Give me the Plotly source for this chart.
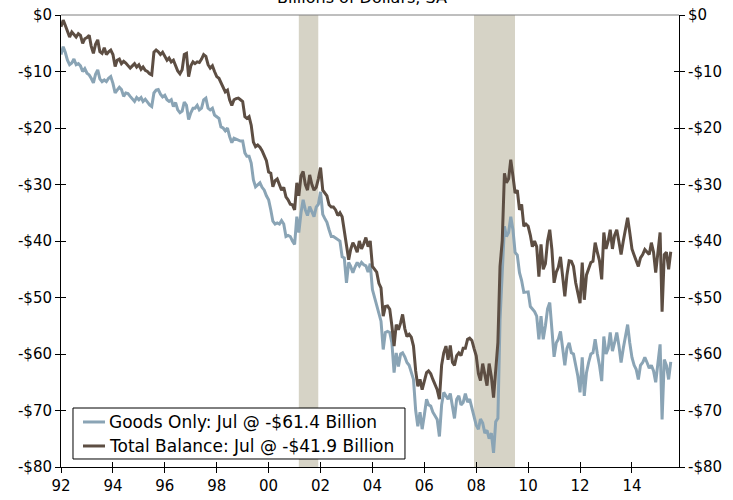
import pandas as pd
import plotly.graph_objects as go

# Monthly US trade balance, billions of dollars, SA (Jan 1992 - Jul 2015)
start_month = "1992-01-01"

goods_only = [
    -7.0, -5.6, -6.6, -8.0, -8.8, -8.5, -7.8, -8.8, -8.6, -9.0, -10.0, -9.5,          # 1992
    -10.3, -10.6, -11.2, -12.0, -10.5, -9.7, -11.3, -11.8, -11.5, -11.8, -11.2, -10.9,  # 1993
    -12.1, -13.8, -13.3, -12.8, -13.2, -14.4, -13.8, -13.9, -14.4, -14.8, -15.3, -14.6,  # 1994
    -15.0, -14.6, -15.3, -14.9, -15.5, -15.9, -16.2, -13.8, -13.3, -13.2, -14.0, -14.5,  # 1995
    -14.2, -15.0, -15.3, -15.0, -16.2, -15.5, -16.8, -17.3, -17.0, -15.4, -16.0, -18.5,  # 1996
    -17.3, -16.5, -16.5, -16.0, -16.8, -16.5, -15.0, -14.7, -16.5, -16.8, -16.5, -17.7,  # 1997
    -18.0, -18.3, -19.8, -20.0, -20.5, -20.0, -21.5, -22.6, -21.8, -22.0, -22.2, -22.3,  # 1998
    -22.3, -24.4, -25.0, -25.0, -26.2, -29.2, -30.4, -30.0, -29.7, -30.5, -31.0, -32.0,  # 1999
    -32.7, -34.5, -36.5, -37.0, -36.8, -37.0, -36.4, -37.0, -39.2, -39.0, -39.2, -40.0,  # 2000
    -40.6, -35.7, -38.5, -35.0, -32.7, -34.5, -35.5, -33.9, -35.0, -35.7, -34.0, -33.5,  # 2001
    -31.3, -35.3, -36.0, -36.7, -38.0, -39.2, -39.2, -39.5, -39.8, -40.0, -42.8, -43.0,  # 2002
    -47.4, -43.8, -44.5, -45.6, -44.6, -43.8, -44.4, -43.8, -44.2, -44.4, -45.5, -44.0,  # 2003
    -48.6, -50.0, -51.6, -53.0, -54.2, -59.2, -56.2, -56.0, -56.2, -58.0, -63.3, -59.8,  # 2004
    -62.2, -60.0, -59.8, -60.5, -61.5, -62.0, -63.3, -64.5, -70.0, -72.8, -70.3, -73.3,  # 2005
    -70.8, -68.0, -69.0, -69.2, -70.3, -71.0, -71.6, -74.6, -69.0, -66.8, -67.5, -68.0,  # 2006
    -67.0, -69.2, -71.4, -68.0, -67.4, -69.0, -68.6, -67.0, -68.5, -68.0, -69.5, -71.0,  # 2007
    -72.6, -73.3, -71.5, -72.2, -74.0, -73.5, -75.0, -74.0, -77.5, -72.0, -71.4, -54.0,  # 2008
    -45.6, -37.4, -39.2, -38.5, -35.7, -38.0, -42.0, -42.5, -45.6, -47.0, -49.1, -49.0,  # 2009
    -49.0, -51.6, -52.0, -52.5, -53.3, -57.4, -53.3, -57.4, -55.0, -52.0, -50.9, -56.0,  # 2010
    -60.5, -58.0, -57.4, -56.0, -59.0, -62.0, -59.0, -58.0, -59.8, -60.0, -62.0, -63.9,  # 2011
    -66.8, -60.6, -67.4, -63.3, -61.5, -60.0, -59.8, -57.4, -60.0, -62.0, -64.8, -56.9,  # 2012
    -60.0, -59.0, -56.2, -59.5, -58.0, -56.2, -58.5, -61.5, -59.0, -57.0, -54.8, -58.0,  # 2013
    -60.6, -62.0, -62.7, -64.5, -62.0, -61.5, -60.6, -61.5, -62.5, -62.0, -63.0, -65.0,  # 2014
    -62.0, -58.3, -71.6, -61.0, -62.0, -64.5, -61.4,                                      # 2015
]

total_balance = [
    -2.1, -0.9, -1.8, -2.9, -3.9, -3.0, -3.4, -3.9, -3.3, -3.6, -5.0, -4.2,            # 1992
    -4.0, -3.6, -5.5, -6.8, -5.2, -4.4, -6.5, -6.8, -5.8, -7.0, -6.5, -6.2,            # 1993
    -7.0, -9.1, -8.0, -7.8, -8.6, -8.2, -8.5, -8.9, -9.4, -9.0, -8.6, -9.2,            # 1994
    -8.8, -9.6, -9.2, -9.8, -10.0, -10.4, -10.6, -6.6, -6.2, -6.5, -7.0, -6.6,         # 1995
    -7.4, -8.0, -7.6, -8.3, -8.0, -9.0, -9.9, -10.4, -9.7, -7.0, -6.8, -10.9,          # 1996
    -9.0, -8.3, -8.6, -8.3, -8.4, -7.8, -7.0, -7.3, -8.8, -9.4, -9.0, -10.0,           # 1997
    -10.9, -11.2, -12.0, -12.6, -13.6, -13.3, -15.0, -16.0, -15.0, -14.8, -14.7, -15.0,  # 1998
    -15.3, -18.0, -18.3, -18.0, -19.5, -22.5, -23.3, -23.0, -23.4, -24.0, -25.0, -25.8,  # 1999
    -27.8, -28.0, -30.4, -29.3, -29.0, -30.0, -31.0, -30.5, -32.2, -32.7, -33.5, -33.6,  # 2000
    -34.5, -29.7, -32.0, -28.5, -27.7, -30.0, -31.0, -28.3, -30.0, -31.0, -30.5, -29.0,  # 2001
    -27.0, -31.0, -31.5, -32.0, -33.6, -34.0, -34.0, -34.5, -35.5, -35.0, -35.7, -38.0,  # 2002
    -40.3, -43.3, -41.5, -40.3, -41.0, -42.0, -40.0, -41.4, -40.5, -39.4, -41.0, -40.0,  # 2003
    -44.5, -45.0, -45.5, -47.5, -48.3, -53.3, -51.6, -51.5, -52.1, -55.0, -58.6, -54.8,  # 2004
    -55.7, -54.5, -53.0, -55.5, -56.9, -56.5, -57.0, -58.6, -63.0, -65.7, -64.5, -66.3,  # 2005
    -65.0, -63.3, -63.0, -63.5, -64.5, -65.5, -66.3, -68.0, -62.0, -59.8, -58.6, -61.0,  # 2006
    -58.5, -61.5, -62.0, -60.3, -59.8, -60.3, -59.0, -59.0, -57.4, -57.2, -57.6, -59.0,  # 2007
    -60.3, -63.5, -64.7, -61.7, -63.5, -65.6, -61.7, -64.0, -67.7, -62.2, -58.0, -44.5,  # 2008
    -40.0, -28.0, -29.7, -29.0, -25.6, -28.5, -31.5, -31.0, -34.5, -33.5, -37.4, -37.0,  # 2009
    -37.4, -39.0, -41.0, -40.0, -41.0, -46.3, -40.6, -45.0, -44.0, -40.0, -38.0, -41.5,  # 2010
    -47.4, -45.5, -44.7, -42.8, -46.0, -49.8, -46.0, -43.5, -43.6, -44.5, -47.4, -49.5,  # 2011
    -51.0, -43.8, -50.4, -46.0, -45.0, -43.8, -43.6, -40.3, -42.0, -43.5, -46.8, -38.5,  # 2012
    -41.4, -40.0, -38.0, -41.4, -39.0, -38.0, -40.1, -42.4, -40.0, -38.0, -35.9, -38.5,  # 2013
    -41.4, -42.5, -43.3, -44.5, -43.0, -42.4, -41.5, -42.0, -42.4, -40.3, -42.0, -45.6,  # 2014
    -41.8, -38.5, -52.5, -42.4, -42.0, -45.0, -41.9,                                      # 2015
]

series_names = ["Goods Only: Jul @ -$61.4 Billion", "Total Balance: Jul @ -$41.9 Billion"]
recessions = [("2001-03-01", "2001-11-30"), ("2007-12-01", "2009-06-30")]
y_tickvals = [0, -10, -20, -30, -40, -50, -60, -70, -80]
y_ticktext = ["$0", "-$10", "-$20", "-$30", "-$40", "-$50", "-$60", "-$70", "-$80"]
title_text = "Billions of Dollars, SA"

dates = pd.date_range(start_month, periods=len(goods_only), freq="MS")

FONT = "DejaVu Sans, Verdana, sans-serif"
BLUE = "#8AA4B5"
BROWN = "#5D4E43"
SHADE = "#D6D3C6"
AX = "#000000"
x_range = ["1992-01-01", "2015-10-25"]
y_range = [-80, 0]
colors = [BLUE, BROWN]

fig = go.Figure()
fig.add_trace(go.Scatter(x=dates, y=goods_only, mode="lines", name=series_names[0],
                         line=dict(color=BLUE, width=3), showlegend=False))
fig.add_trace(go.Scatter(x=dates, y=total_balance, mode="lines", name=series_names[1],
                         line=dict(color=BROWN, width=3), showlegend=False))
# empty helper traces so that overlay axes (for crossing tick marks) get drawn
for xa, ya in [("x", "y2"), ("x", "y3"), ("x", "y4"), ("x2", "y")]:
    fig.add_trace(go.Scatter(x=[], y=[], xaxis=xa, yaxis=ya, showlegend=False, hoverinfo="skip"))

for r0, r1 in recessions:
    fig.add_shape(type="rect", xref="x", yref="paper", x0=r0, x1=r1, y0=0, y1=1,
                  fillcolor=SHADE, line=dict(width=0), layer="below")
fig.add_shape(type="line", xref="paper", yref="paper", x0=0, x1=1, y0=1, y1=1,
              line=dict(color="#7f7f7f", width=1))

# legend box (drawn manually to match the boxed legend of the original)
fig.add_shape(type="rect", xref="paper", yref="paper", x0=0.0194, x1=0.5566, y0=0.0177, y1=0.1305,
              fillcolor="white", line=dict(color="#000", width=1), layer="above")
legend_rows = [0.0996, 0.0465]
annotations = []
for name, col, ry in zip(series_names, colors, legend_rows):
    fig.add_shape(type="line", xref="paper", yref="paper", x0=0.0356, x1=0.0712, y0=ry, y1=ry,
                  line=dict(color=col, width=3), layer="above")
    annotations.append(dict(text=name, xref="paper", yref="paper", x=0.0744, y=ry,
                            xanchor="left", yanchor="middle", showarrow=False,
                            font=dict(family=FONT, size=17, color="#000")))
annotations.append(dict(text=title_text, xref="paper", yref="paper", x=0.487, y=1,
                        xanchor="center", yanchor="bottom", yshift=6, showarrow=False,
                        font=dict(family=FONT, size=16, color="#000")))

tickfont = dict(family=FONT, size=15, color="#000")
yax_common = dict(range=y_range, tickvals=y_tickvals, ticktext=y_ticktext, showgrid=False,
                  zeroline=False, tickcolor=AX, ticklen=5, tickfont=tickfont, automargin=False)

fig.update_layout(
    width=733, height=500,
    margin=dict(l=61, r=54, t=15, b=33),
    paper_bgcolor="white", plot_bgcolor="white",
    font=dict(family=FONT, size=15, color="#000"),
    xaxis=dict(type="date", range=x_range, tickformat="%y", dtick="M24", tick0="1992-01-01",
               ticks="outside", ticklen=5, tickcolor=AX, showline=True, linecolor=AX,
               linewidth=1, showgrid=False, zeroline=False, tickfont=tickfont, automargin=False),
    xaxis2=dict(type="date", range=x_range, dtick="M24", tick0="1992-01-01", overlaying="x",
                anchor="y", side="bottom", ticks="inside", ticklen=5, tickcolor=AX,
                showticklabels=False, showline=False, showgrid=False, zeroline=False,
                automargin=False),
    yaxis=dict(**yax_common, side="left", ticks="outside", showline=True, linecolor=AX, linewidth=1),
    yaxis2=dict(**yax_common, side="right", overlaying="y", anchor="x", ticks="outside",
                showline=True, linecolor=AX, linewidth=1),
    yaxis3=dict(**yax_common, side="left", overlaying="y", anchor="x", ticks="inside",
                showticklabels=False, showline=False),
    yaxis4=dict(**yax_common, side="right", overlaying="y", anchor="x", ticks="inside",
                showticklabels=False, showline=False),
    showlegend=False,
    annotations=annotations,
)

# remove the default page margin so the 733x500 figure fills the window exactly
fig.write_html("out.html", config={"displayModeBar": False},
               post_script="document.body.style.margin='0';")
